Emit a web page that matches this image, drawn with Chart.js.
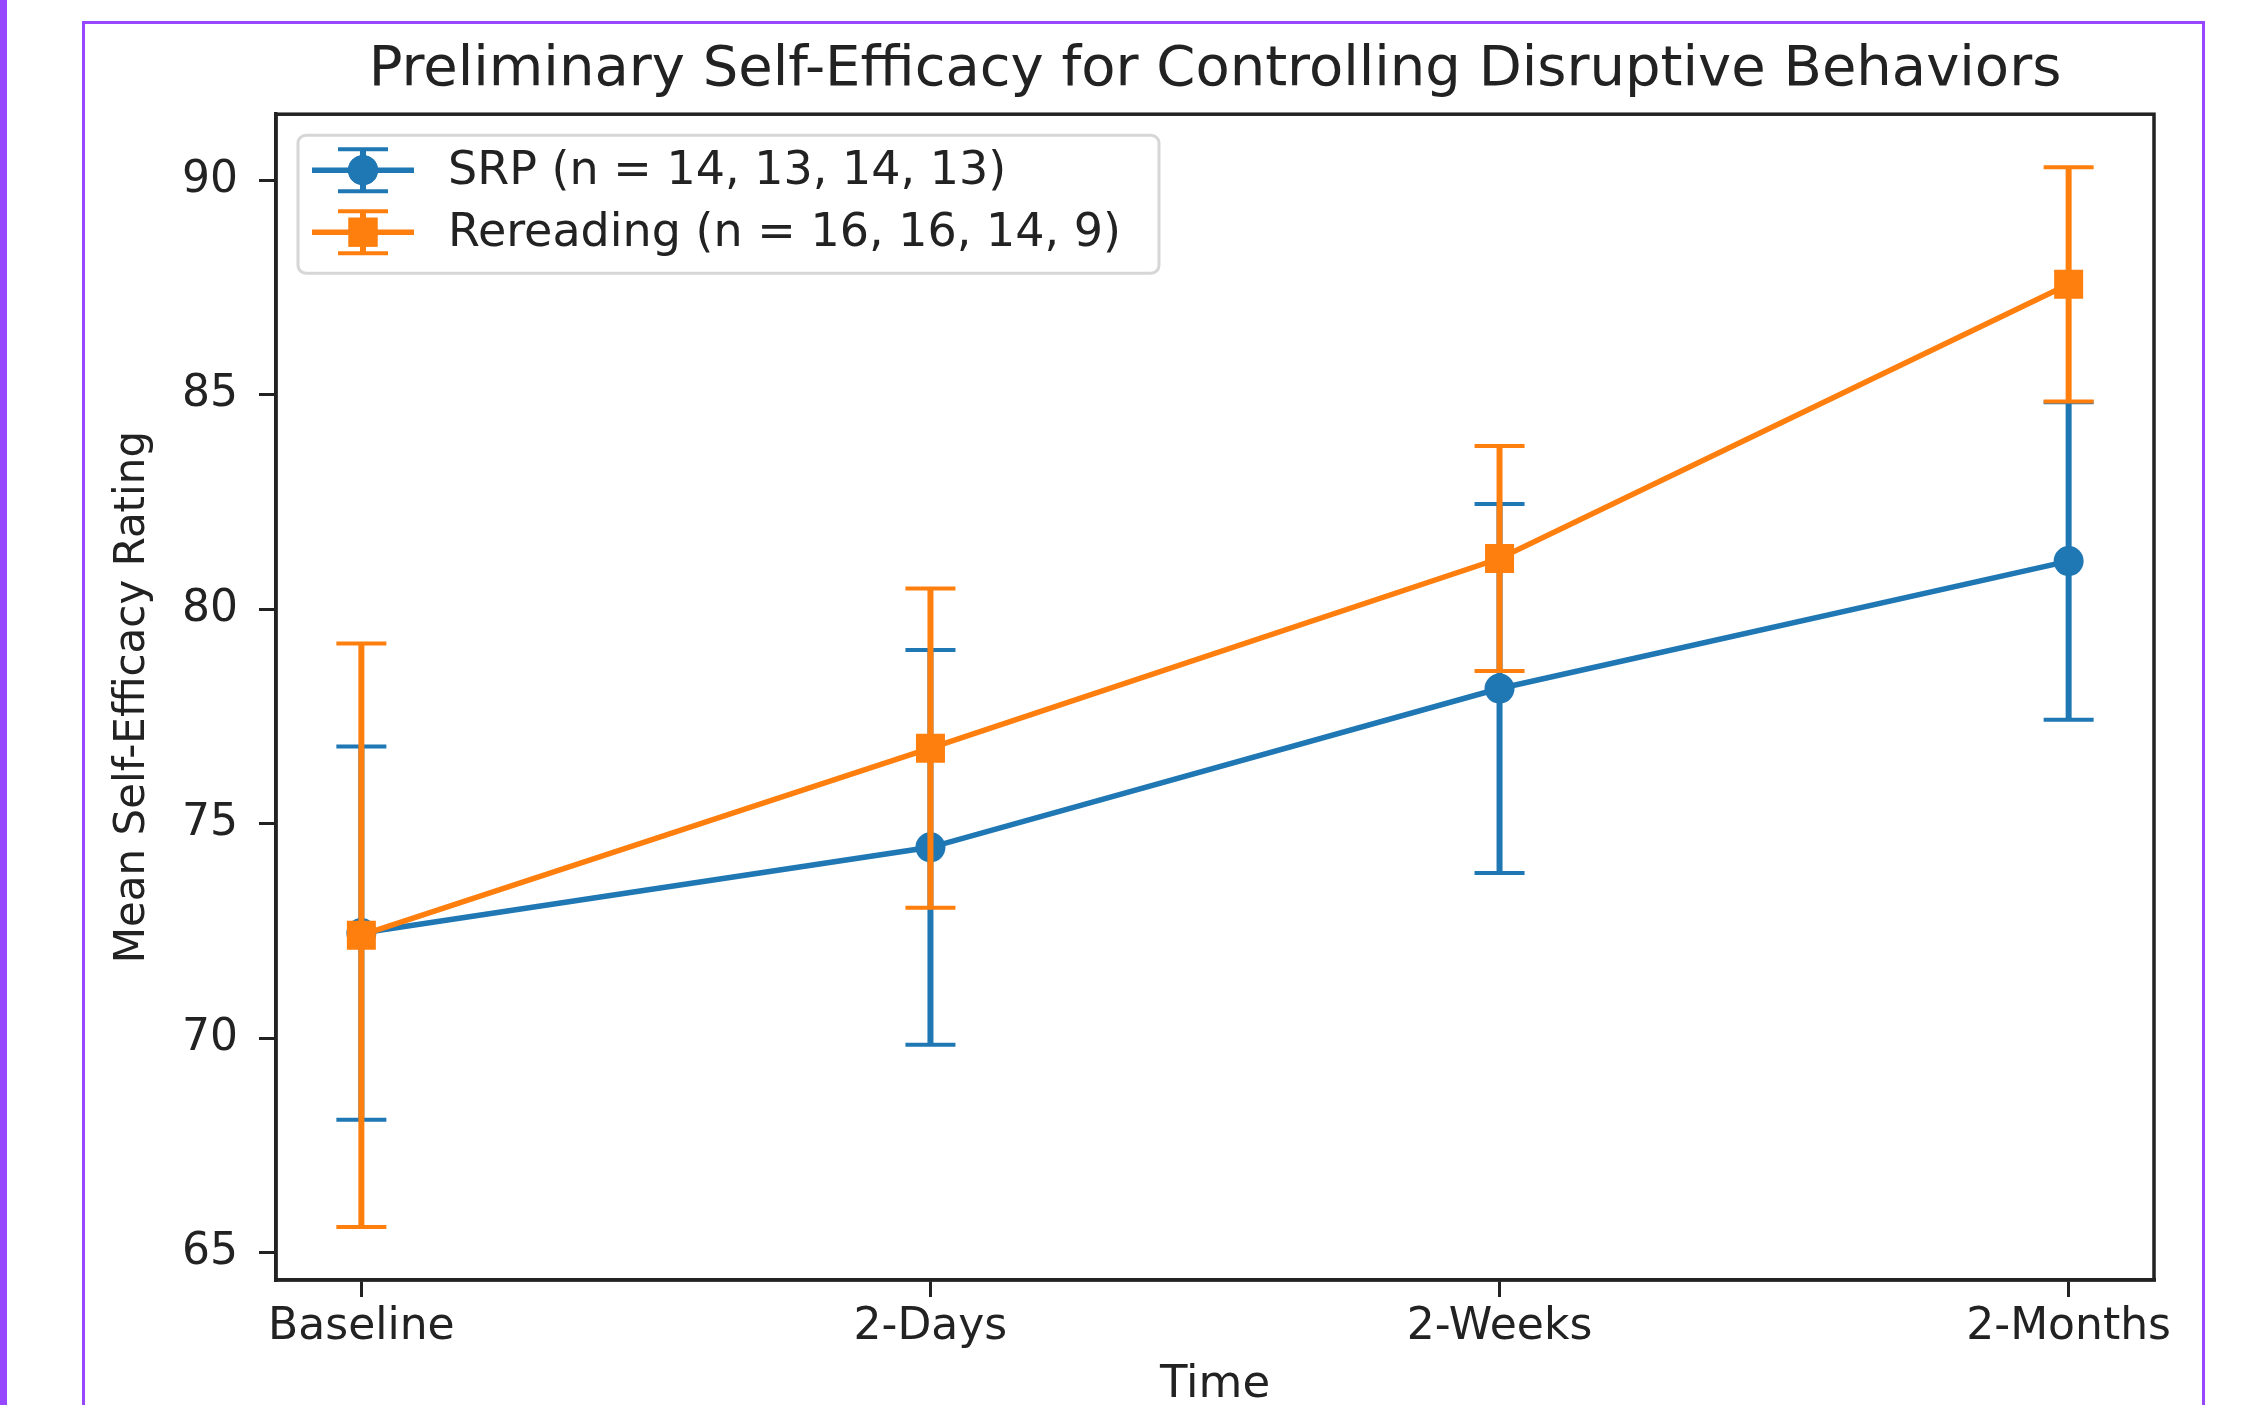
<!DOCTYPE html>
<html><head><meta charset="utf-8">
<script src="https://cdn.jsdelivr.net/npm/chart.js@4.4.1/dist/chart.umd.min.js"></script>
<style>
html,body{margin:0;padding:0;background:#fff;}
canvas{display:block;}
</style></head><body>
<canvas id="c" width="2250" height="1405"></canvas>
<script>
const categories = ['Baseline', '2-Days', '2-Weeks', '2-Months'];
const srpMeans = [72.45, 74.45, 78.15, 81.12];
const srpErrors = [4.35, 4.6, 4.3, 3.7];
const rereadMeans = [72.4, 76.76, 81.18, 87.57];
const rereadErrors = [6.8, 3.72, 2.62, 2.73];
const yTicks = [65, 70, 75, 80, 85, 90];
const seriesLabels = ['SRP (n = 14, 13, 14, 13)', 'Rereading (n = 16, 16, 14, 9)'];
const titleText = 'Preliminary Self-Efficacy for Controlling Disruptive Behaviors';
const xTitle = 'Time';
const yTitle = 'Mean Self-Efficacy Rating';

const FONT = "'DejaVu Sans', sans-serif";
const TXT = '#222';
const BLUE = '#1f77b4', ORANGE = '#ff7f0e';
const errorSets = [srpErrors, rereadErrors];
const pointStyles = ['circle', 'rect'];
const pointRadii = [15, 20.5];
const colors = [BLUE, ORANGE];

// matplotlib-like 5% auto margins
const allLo = Math.min(...srpMeans.map((m, i) => m - srpErrors[i]), ...rereadMeans.map((m, i) => m - rereadErrors[i]));
const allHi = Math.max(...srpMeans.map((m, i) => m + srpErrors[i]), ...rereadMeans.map((m, i) => m + rereadErrors[i]));
const yMargin = 0.05 * (allHi - allLo);
const xMargin = 0.05 * (categories.length - 1);

function drawErrorBars(ctx, chart, dsIndex) {
  const ds = chart.data.datasets[dsIndex];
  const errs = errorSets[dsIndex];
  const xs = chart.scales.x, ys = chart.scales.y;
  ctx.save();
  ctx.strokeStyle = ds.borderColor;
  ds.data.forEach((p, i) => {
    const x = xs.getPixelForValue(p.x);
    const yTop = ys.getPixelForValue(p.y + errs[i]);
    const yBot = ys.getPixelForValue(p.y - errs[i]);
    ctx.lineWidth = 6;
    ctx.beginPath(); ctx.moveTo(x, yTop); ctx.lineTo(x, yBot); ctx.stroke();
    ctx.lineWidth = 4;
    ctx.beginPath();
    ctx.moveTo(x - 25, yTop); ctx.lineTo(x + 25, yTop);
    ctx.moveTo(x - 25, yBot); ctx.lineTo(x + 25, yBot);
    ctx.stroke();
  });
  ctx.restore();
}

const errorBarPlugin = {
  id: 'errorBars',
  beforeDatasetDraw(chart, args) { drawErrorBars(chart.ctx, chart, args.index); }
};

const decorPlugin = {
  id: 'decor',
  beforeDraw(chart) {
    const ctx = chart.ctx;
    ctx.save();
    ctx.fillStyle = '#fff';
    ctx.fillRect(0, 0, chart.width, chart.height);
    ctx.restore();
  },
  afterDraw(chart) {
    const ctx = chart.ctx;
    const a = chart.chartArea;
    ctx.save();
    // axes frame
    ctx.strokeStyle = '#222';
    ctx.lineWidth = 3.5;
    ctx.strokeRect(a.left, a.top, a.right - a.left, a.bottom - a.top);

    // legend
    const lx = a.left + 22, ly = a.top + 21, lw = 861, lh = 138;
    ctx.beginPath();
    ctx.roundRect(lx, ly, lw, lh, 8);
    ctx.fillStyle = 'rgba(255,255,255,0.85)';
    ctx.fill();
    ctx.strokeStyle = '#d6d6d6';
    ctx.lineWidth = 3;
    ctx.stroke();
    const rows = [ly + 35, ly + 97];
    seriesLabels.forEach((lab, i) => {
      const cy = rows[i], cx = lx + 65;
      ctx.strokeStyle = colors[i];
      ctx.fillStyle = colors[i];
      ctx.lineWidth = 5.5;
      ctx.beginPath(); ctx.moveTo(lx + 14, cy); ctx.lineTo(lx + 116, cy); ctx.stroke();
      ctx.lineWidth = 6;
      ctx.beginPath(); ctx.moveTo(cx, cy - 21); ctx.lineTo(cx, cy + 21); ctx.stroke();
      ctx.lineWidth = 4;
      ctx.beginPath();
      ctx.moveTo(cx - 25, cy - 21); ctx.lineTo(cx + 25, cy - 21);
      ctx.moveTo(cx - 25, cy + 21); ctx.lineTo(cx + 25, cy + 21);
      ctx.stroke();
      Chart.helpers.drawPoint(ctx, {pointStyle: pointStyles[i], radius: pointRadii[i], borderWidth: 0, rotation: 0}, cx, cy);
      ctx.fill();
      ctx.fillStyle = TXT;
      ctx.font = "46px " + FONT;
      ctx.textBaseline = 'middle';
      ctx.textAlign = 'left';
      ctx.fillText(lab, lx + 150, cy + 2);
    });

    // page decorations (purple frame)
    ctx.fillStyle = '#9747ff';
    ctx.fillRect(0, 0, 7, chart.height);
    ctx.strokeStyle = '#9747ff';
    ctx.lineWidth = 3;
    ctx.strokeRect(83.5, 22.5, 2120, 1500);
    ctx.restore();
  }
};

const chart = new Chart(document.getElementById('c'), {
  type: 'line',
  data: {
    datasets: [
      {
        label: seriesLabels[0],
        data: srpMeans.map((y, i) => ({x: i, y})),
        borderColor: BLUE, backgroundColor: BLUE,
        borderWidth: 5.5, pointStyle: 'circle', pointRadius: pointRadii[0], pointBorderWidth: 0,
        pointBackgroundColor: BLUE, tension: 0, order: 1
      },
      {
        label: seriesLabels[1],
        data: rereadMeans.map((y, i) => ({x: i, y})),
        borderColor: ORANGE, backgroundColor: ORANGE,
        borderWidth: 5.5, pointStyle: 'rect', pointRadius: pointRadii[1], pointBorderWidth: 0,
        pointBackgroundColor: ORANGE, tension: 0, order: 0
      }
    ]
  },
  options: {
    responsive: false,
    animation: false,
    devicePixelRatio: 1,
    layout: {padding: {left: 0, right: 96, top: 0, bottom: 0}},
    plugins: {
      legend: {display: false},
      tooltip: {enabled: false},
      title: {
        display: true, text: titleText, color: TXT, fullSize: false,
        font: {family: FONT, size: 56, weight: 'normal', lineHeight: 1.2},
        padding: {top: 37, bottom: 10}
      }
    },
    scales: {
      x: {
        type: 'linear',
        min: -xMargin, max: categories.length - 1 + xMargin,
        afterBuildTicks: s => { s.ticks = categories.map((c, i) => ({value: i})); },
        afterFit: s => { s.height = 125; },
        ticks: {
          callback: v => categories[Math.round(v)],
          color: TXT, font: {family: FONT, size: 44}, padding: 4,
          autoSkip: false, maxRotation: 0, minRotation: 0
        },
        grid: {display: true, drawOnChartArea: false, drawTicks: true, tickLength: 17, color: '#222', lineWidth: 3},
        border: {display: true, color: '#222', width: 3.5},
        title: {display: true, text: xTitle, color: TXT, font: {family: FONT, size: 45, lineHeight: 0.89}, padding: 0}
      },
      y: {
        type: 'linear',
        min: allLo - yMargin, max: allHi + yMargin,
        afterBuildTicks: s => { s.ticks = yTicks.map(v => ({value: v})); },
        afterFit: s => { s.width = 276; },
        ticks: {color: TXT, font: {family: FONT, size: 44}, padding: 21},
        grid: {display: true, drawOnChartArea: false, drawTicks: true, tickLength: 17, color: '#222', lineWidth: 3},
        border: {display: true, color: '#222', width: 3.5},
        title: {display: true, text: yTitle, color: TXT, font: {family: FONT, size: 42, lineHeight: 1.2}, padding: {top: 108, bottom: 0}}
      }
    }
  },
  plugins: [errorBarPlugin, decorPlugin]
});
</script>
</body></html>
